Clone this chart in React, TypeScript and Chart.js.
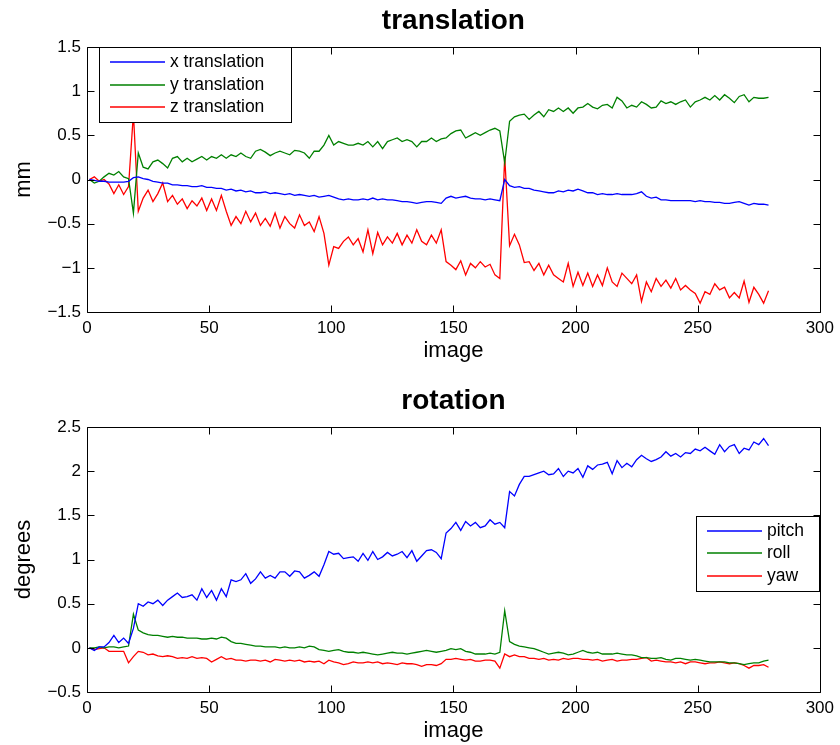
import React, { useEffect, useRef } from 'react';
import { Chart, registerables } from 'chart.js';

Chart.register(...registerables);

const FONT = "'Liberation Sans', Arial, Helvetica, sans-serif";

// image index (every second image)
const images = [
  1, 3, 5, 7, 9, 11, 13, 15, 17, 19,
  21, 23, 25, 27, 29, 31, 33, 35, 37, 39,
  41, 43, 45, 47, 49, 51, 53, 55, 57, 59,
  61, 63, 65, 67, 69, 71, 73, 75, 77, 79,
  81, 83, 85, 87, 89, 91, 93, 95, 97, 99,
  101, 103, 105, 107, 109, 111, 113, 115, 117, 119,
  121, 123, 125, 127, 129, 131, 133, 135, 137, 139,
  141, 143, 145, 147, 149, 151, 153, 155, 157, 159,
  161, 163, 165, 167, 169, 171, 173, 175, 177, 179,
  181, 183, 185, 187, 189, 191, 193, 195, 197, 199,
  201, 203, 205, 207, 209, 211, 213, 215, 217, 219,
  221, 223, 225, 227, 229, 231, 233, 235, 237, 239,
  241, 243, 245, 247, 249, 251, 253, 255, 257, 259,
  261, 263, 265, 267, 269, 271, 273, 275, 277, 279,
];

const xTranslation = [
  0, -0.01, -0.02, -0.02, -0.03, -0.03, -0.03, -0.03, -0.02, 0.02,
  0.03, 0.01, 0.0, -0.02, -0.03, -0.04, -0.04, -0.06, -0.06, -0.07,
  -0.07, -0.08, -0.08, -0.07, -0.09, -0.09, -0.1, -0.1, -0.12, -0.11,
  -0.13, -0.12, -0.14, -0.13, -0.15, -0.15, -0.14, -0.16, -0.15, -0.16,
  -0.17, -0.16, -0.18, -0.17, -0.18, -0.19, -0.18, -0.2, -0.19, -0.18,
  -0.2, -0.22, -0.23, -0.22, -0.23, -0.23, -0.22, -0.23, -0.21, -0.23,
  -0.22, -0.23, -0.23, -0.24, -0.25, -0.25, -0.26, -0.27, -0.26, -0.25,
  -0.25, -0.26, -0.27, -0.21, -0.19, -0.21, -0.2, -0.19, -0.21, -0.22,
  -0.22, -0.23, -0.22, -0.23, -0.24, 0.0, -0.07, -0.09, -0.08, -0.1,
  -0.1, -0.12, -0.13, -0.14, -0.15, -0.15, -0.13, -0.14, -0.12, -0.13,
  -0.11, -0.13, -0.15, -0.15, -0.17, -0.16, -0.17, -0.17, -0.16, -0.17,
  -0.17, -0.17, -0.16, -0.14, -0.19, -0.21, -0.2, -0.23, -0.23, -0.24,
  -0.24, -0.24, -0.24, -0.24, -0.25, -0.24, -0.25, -0.25, -0.26, -0.26,
  -0.27, -0.27, -0.26, -0.25, -0.27, -0.29, -0.27, -0.28, -0.28, -0.29,
];

const yTranslation = [
  0, -0.04, -0.02, 0.03, 0.07, 0.05, 0.09, 0.03, 0.01, -0.38,
  0.3, 0.14, 0.12, 0.2, 0.22, 0.18, 0.13, 0.24, 0.26, 0.2,
  0.24, 0.2, 0.23, 0.26, 0.22, 0.26, 0.24, 0.28, 0.24, 0.28,
  0.26, 0.3, 0.26, 0.24, 0.32, 0.34, 0.31, 0.27, 0.3, 0.32,
  0.3, 0.28, 0.33, 0.32, 0.3, 0.24, 0.32, 0.32, 0.39, 0.5,
  0.39, 0.43, 0.41, 0.39, 0.39, 0.41, 0.39, 0.43, 0.37, 0.43,
  0.35, 0.43, 0.45, 0.47, 0.43, 0.45, 0.43, 0.37, 0.43, 0.43,
  0.47, 0.43, 0.46, 0.47, 0.52, 0.55, 0.56, 0.47, 0.5, 0.53,
  0.5, 0.53, 0.56, 0.58, 0.55, 0.19, 0.66, 0.71, 0.73, 0.74,
  0.68, 0.73, 0.77, 0.71, 0.79, 0.77, 0.81, 0.77, 0.81, 0.75,
  0.81, 0.82, 0.86, 0.82, 0.8, 0.84, 0.85, 0.81, 0.93, 0.89,
  0.81, 0.84, 0.82, 0.88, 0.85, 0.81, 0.82, 0.89, 0.86, 0.88,
  0.85, 0.88, 0.9, 0.82, 0.88, 0.9, 0.93, 0.9, 0.95, 0.9,
  0.96, 0.92, 0.87, 0.94, 0.96, 0.88, 0.93, 0.92, 0.92, 0.93,
];

const zTranslation = [
  0, 0.03, -0.02, 0.0, -0.05, -0.16, -0.06, -0.17, -0.08, 0.75,
  -0.36, -0.21, -0.12, -0.25, -0.16, -0.04, -0.25, -0.18, -0.28, -0.22,
  -0.33, -0.24, -0.3, -0.21, -0.35, -0.22, -0.35, -0.18, -0.36, -0.52,
  -0.42, -0.5, -0.36, -0.48, -0.38, -0.52, -0.44, -0.53, -0.38, -0.55,
  -0.42, -0.5, -0.55, -0.4, -0.52, -0.48, -0.59, -0.42, -0.61, -0.97,
  -0.76, -0.78, -0.7, -0.65, -0.74, -0.67, -0.82, -0.57, -0.84, -0.6,
  -0.74, -0.65, -0.72, -0.61, -0.74, -0.63, -0.72, -0.57, -0.7, -0.74,
  -0.63, -0.72, -0.57, -0.93, -0.97, -1.02, -0.92, -1.08, -0.95, -1.0,
  -0.93, -0.99, -0.96, -1.08, -1.12, 0.26, -0.75, -0.62, -0.74, -0.94,
  -0.93, -1.03, -0.95, -1.08, -0.97, -1.08, -1.12, -1.16, -0.95, -1.21,
  -1.05, -1.2, -1.06, -1.21, -1.08, -1.2, -1.0, -1.16, -1.21, -1.06,
  -1.12, -1.18, -1.08, -1.38, -1.16, -1.27, -1.12, -1.21, -1.14, -1.23,
  -1.12, -1.25, -1.2, -1.25, -1.29, -1.4, -1.27, -1.3, -1.18, -1.25,
  -1.22, -1.34, -1.28, -1.34, -1.15, -1.39, -1.22, -1.3, -1.4, -1.26,
];

const pitch = [
  0, -0.03, 0.01, 0.01, 0.06, 0.14, 0.06, 0.11, 0.05, 0.22,
  0.5, 0.47, 0.52, 0.5, 0.54, 0.48, 0.54, 0.58, 0.62, 0.57,
  0.58, 0.6, 0.54, 0.67, 0.57, 0.65, 0.54, 0.67, 0.58, 0.77,
  0.75, 0.77, 0.84, 0.73, 0.78, 0.86, 0.79, 0.82, 0.79, 0.86,
  0.86, 0.81, 0.87, 0.86, 0.79, 0.82, 0.86, 0.81, 0.94, 1.09,
  1.06, 1.07, 1.01, 1.02, 1.03, 0.98, 1.07, 0.99, 1.09, 1.0,
  1.03, 1.08, 1.04, 1.06, 1.09, 1.02, 1.1, 0.98, 1.04, 1.1,
  1.11, 1.08, 1.01, 1.3, 1.35, 1.42, 1.33, 1.43, 1.38, 1.42,
  1.36, 1.38, 1.45, 1.4, 1.42, 1.36, 1.77, 1.72, 1.85, 1.94,
  1.94, 1.96, 1.98, 2.0, 1.96, 1.97, 2.03, 1.94, 2.0, 1.98,
  2.03, 1.93, 2.06, 2.02, 2.07, 2.08, 2.1, 1.97, 2.12, 2.04,
  2.09, 2.05, 2.13, 2.18, 2.14, 2.11, 2.13, 2.16, 2.22, 2.17,
  2.2, 2.16, 2.21, 2.2, 2.25, 2.23, 2.27, 2.23, 2.19, 2.3,
  2.22, 2.28, 2.3, 2.2, 2.26, 2.24, 2.33, 2.3, 2.37, 2.29,
];

const roll = [
  0, 0.0, 0.01, 0.0, 0.01, 0.01, 0.0, 0.01, 0.02, 0.38,
  0.2, 0.17, 0.15, 0.14, 0.14, 0.13, 0.12, 0.13, 0.12, 0.12,
  0.11, 0.11, 0.11, 0.1, 0.1, 0.11, 0.1, 0.12, 0.11, 0.07,
  0.05, 0.05, 0.04, 0.03, 0.02, 0.02, 0.01, 0.01, 0.01, 0.0,
  0.01, 0.0, 0.0, 0.01, 0.0, 0.02, 0.01, -0.02, -0.03, -0.04,
  -0.03, -0.02, -0.04, -0.05, -0.05, -0.06, -0.05, -0.06, -0.07, -0.08,
  -0.07, -0.06, -0.05, -0.06, -0.06, -0.07, -0.06, -0.05, -0.04, -0.03,
  -0.04, -0.05, -0.04, -0.03, -0.01, -0.02, -0.01, -0.04, -0.05, -0.07,
  -0.07, -0.07, -0.06, -0.07, -0.05, 0.42, 0.07, 0.04, 0.02, 0.01,
  0.0, -0.01, -0.03, -0.05, -0.07, -0.06, -0.05, -0.06, -0.08, -0.07,
  -0.05, -0.03, -0.05, -0.06, -0.05, -0.07, -0.07, -0.07, -0.06, -0.07,
  -0.08, -0.08, -0.09, -0.11, -0.11, -0.12, -0.12, -0.11, -0.13, -0.14,
  -0.12, -0.12, -0.13, -0.14, -0.13, -0.14, -0.15, -0.16, -0.16, -0.16,
  -0.16, -0.17, -0.17, -0.18, -0.19, -0.18, -0.17, -0.17, -0.15, -0.14,
];

const yaw = [
  0, -0.02, -0.01, 0.0, -0.04, -0.04, -0.04, -0.04, -0.17, -0.1,
  -0.04, -0.05, -0.08, -0.07, -0.09, -0.1, -0.09, -0.1, -0.12, -0.11,
  -0.12, -0.1, -0.12, -0.11, -0.12, -0.16, -0.13, -0.1, -0.13, -0.12,
  -0.14, -0.14, -0.15, -0.14, -0.14, -0.15, -0.14, -0.16, -0.13, -0.14,
  -0.15, -0.14, -0.15, -0.14, -0.16, -0.15, -0.16, -0.15, -0.18, -0.14,
  -0.16, -0.17, -0.19, -0.18, -0.16, -0.17, -0.17, -0.16, -0.17, -0.16,
  -0.18, -0.17, -0.18, -0.19, -0.17, -0.18, -0.18, -0.19, -0.21, -0.19,
  -0.19, -0.2, -0.18, -0.13, -0.13, -0.12, -0.13, -0.14, -0.13, -0.15,
  -0.15, -0.14, -0.14, -0.15, -0.23, -0.07, -0.1, -0.08, -0.1, -0.1,
  -0.12, -0.12, -0.13, -0.12, -0.14, -0.13, -0.14, -0.12, -0.13, -0.12,
  -0.12, -0.13, -0.13, -0.14, -0.13, -0.15, -0.14, -0.13, -0.15, -0.14,
  -0.14, -0.13, -0.13, -0.12, -0.11, -0.15, -0.14, -0.15, -0.16, -0.16,
  -0.17, -0.16, -0.18, -0.16, -0.16, -0.17, -0.18, -0.17, -0.17, -0.16,
  -0.17, -0.18, -0.17, -0.18, -0.2, -0.23, -0.2, -0.2, -0.19, -0.22,
];

const imageTicks = [0, 50, 100, 150, 200, 250, 300];
const mmTicks = [-1.5, -1, -0.5, 0, 0.5, 1, 1.5];
const degreeTicks = [-0.5, 0, 0.5, 1, 1.5, 2, 2.5];

const translationLabels = ['x translation', 'y translation', 'z translation'];
const rotationLabels = ['pitch', 'roll', 'yaw'];
const seriesColors = ['#0000ff', '#008000', '#ff0000'];

function fmt(v: number): string {
  const r = Math.round(v * 100) / 100;
  return r < 0 ? '\u2212' + String(-r) : String(r);
}

const framePlugin = {
  id: 'matlabFrame',
  afterDatasetsDraw(chart: any, _args: any, opts: any) {
    const { ctx, chartArea: a, scales } = chart;
    const L = Math.round(a.left) + 0.5;
    const R = Math.round(a.right) + 0.5;
    const T = Math.round(a.top) + 0.5;
    const B = Math.round(a.bottom) + 0.5;
    const tl = opts.tickLength;
    ctx.save();
    ctx.strokeStyle = '#000000';
    ctx.lineWidth = 1;
    ctx.beginPath();
    ctx.rect(L, T, R - L, B - T);
    for (const t of scales.x.ticks) {
      const p = Math.round(scales.x.getPixelForValue(t.value)) + 0.5;
      ctx.moveTo(p, B); ctx.lineTo(p, B - tl);
      ctx.moveTo(p, T); ctx.lineTo(p, T + tl);
    }
    for (const t of scales.y.ticks) {
      const p = Math.round(scales.y.getPixelForValue(t.value)) + 0.5;
      ctx.moveTo(L, p); ctx.lineTo(L + tl, p);
      ctx.moveTo(R, p); ctx.lineTo(R - tl, p);
    }
    ctx.stroke();
    ctx.restore();

    const lg = opts.legend;
    const x0 = lg.align === 'right'
      ? Math.round(a.right) - lg.offsetX - lg.width
      : Math.round(a.left) + lg.offsetX;
    const y0 = Math.round(a.top) + lg.offsetY;
    ctx.save();
    ctx.fillStyle = '#ffffff';
    ctx.fillRect(x0, y0, lg.width, lg.height);
    ctx.lineWidth = 1;
    ctx.strokeStyle = '#000000';
    ctx.strokeRect(x0 + 0.5, y0 + 0.5, lg.width, lg.height);
    const labels: string[] = lg.labels;
    for (let i = 0; i < labels.length; i++) {
      const yc = Math.round(y0 + lg.firstRow + i * lg.rowGap);
      ctx.strokeStyle = seriesColors[i];
      ctx.lineWidth = 1.4;
      ctx.beginPath();
      ctx.moveTo(x0 + lg.lineStart, yc);
      ctx.lineTo(x0 + lg.lineEnd, yc);
      ctx.stroke();
      ctx.fillStyle = '#000000';
      ctx.font = `${lg.fontSize}px ${FONT}`;
      ctx.textBaseline = 'middle';
      ctx.textAlign = 'left';
      ctx.fillText(labels[i], x0 + lg.textStart, yc);
    }
    ctx.restore();
  },
};

function buildConfig(p: {
  title: string; titleTop: number; yTitle: string; series: number[][]; labels: string[];
  yTicks: number[]; xHeight: number; xTitleBottom: number; legend: any;
}) {
  return {
    type: 'line' as const,
    data: {
      datasets: p.series.map((s, i) => ({
        label: p.labels[i],
        data: images.map((x, j) => ({ x, y: s[j] })),
        borderColor: seriesColors[i],
        backgroundColor: seriesColors[i],
        borderWidth: 1.3,
        pointRadius: 0,
        tension: 0,
        fill: false,
      })),
    },
    options: {
      responsive: false,
      animation: false as const,
      events: [],
      layout: { padding: { left: 0, right: 18, top: 0, bottom: 0 } },
      plugins: {
        legend: { display: false },
        tooltip: { enabled: false },
        title: {
          display: true,
          text: p.title,
          fullSize: false,
          color: '#000',
          font: { family: FONT, size: 28, weight: 'bold' as const, lineHeight: '32px' },
          padding: { top: p.titleTop, bottom: 10 },
        },
        matlabFrame: { tickLength: 7, legend: { ...p.legend, labels: p.labels } },
      },
      scales: {
        x: {
          type: 'linear' as const,
          min: imageTicks[0],
          max: imageTicks[imageTicks.length - 1],
          afterBuildTicks: (s: any) => { s.ticks = imageTicks.map((v) => ({ value: v })); },
          afterFit: (s: any) => { s.height = p.xHeight; },
          ticks: {
            padding: 6, color: '#000', maxRotation: 0, autoSkip: false,
            font: { family: FONT, size: 17 },
            callback: (v: any) => fmt(Number(v)),
          },
          grid: { display: false, drawTicks: false },
          border: { display: false },
          title: {
            display: true, text: 'image', color: '#000',
            font: { family: FONT, size: 22 },
            padding: { top: 0, bottom: p.xTitleBottom },
          },
        },
        y: {
          type: 'linear' as const,
          min: p.yTicks[0],
          max: p.yTicks[p.yTicks.length - 1],
          afterBuildTicks: (s: any) => { s.ticks = p.yTicks.map((v) => ({ value: v })); },
          afterFit: (s: any) => { s.width = 87; },
          ticks: {
            padding: 6, color: '#000', autoSkip: false,
            font: { family: FONT, size: 17 },
            callback: (v: any) => fmt(Number(v)),
          },
          grid: { display: false, drawTicks: false },
          border: { display: false },
          title: {
            display: true, text: p.yTitle, color: '#000',
            font: { family: FONT, size: 22 },
            padding: { top: 11, bottom: 0 },
          },
        },
      },
    },
    plugins: [framePlugin],
  };
}

export default function App() {
  const topRef = useRef<HTMLCanvasElement | null>(null);
  const botRef = useRef<HTMLCanvasElement | null>(null);

  useEffect(() => {
    const legendCommon = { height: 75, lineStart: 11, lineEnd: 66, textStart: 71, fontSize: 17.5 };
    const top = new Chart(topRef.current as HTMLCanvasElement, buildConfig({
      title: 'translation', titleTop: 5, yTitle: 'mm',
      series: [xTranslation, yTranslation, zTranslation], labels: translationLabels,
      yTicks: mmTicks, xHeight: 60, xTitleBottom: 8,
      legend: { ...legendCommon, align: 'left', offsetX: 12, offsetY: 0, width: 192, firstRow: 15.3, rowGap: 22.5 },
    }) as any);
    const bot = new Chart(botRef.current as HTMLCanvasElement, buildConfig({
      title: 'rotation', titleTop: 13, yTitle: 'degrees',
      series: [pitch, roll, yaw], labels: rotationLabels,
      yTicks: degreeTicks, xHeight: 53, xTitleBottom: 1,
      legend: { ...legendCommon, align: 'right', offsetX: 1, offsetY: 89, width: 123, firstRow: 14.7, rowGap: 22.7 },
    }) as any);
    return () => { top.destroy(); bot.destroy(); };
  }, []);

  return (
    <div style={{ position: 'absolute', left: 0, top: 0, width: 840, height: 745, background: '#fff' }}>
      <canvas ref={topRef} width={840} height={372} style={{ display: 'block', width: 840, height: 372 }} />
      <canvas ref={botRef} width={840} height={373} style={{ display: 'block', width: 840, height: 373 }} />
    </div>
  );
}
